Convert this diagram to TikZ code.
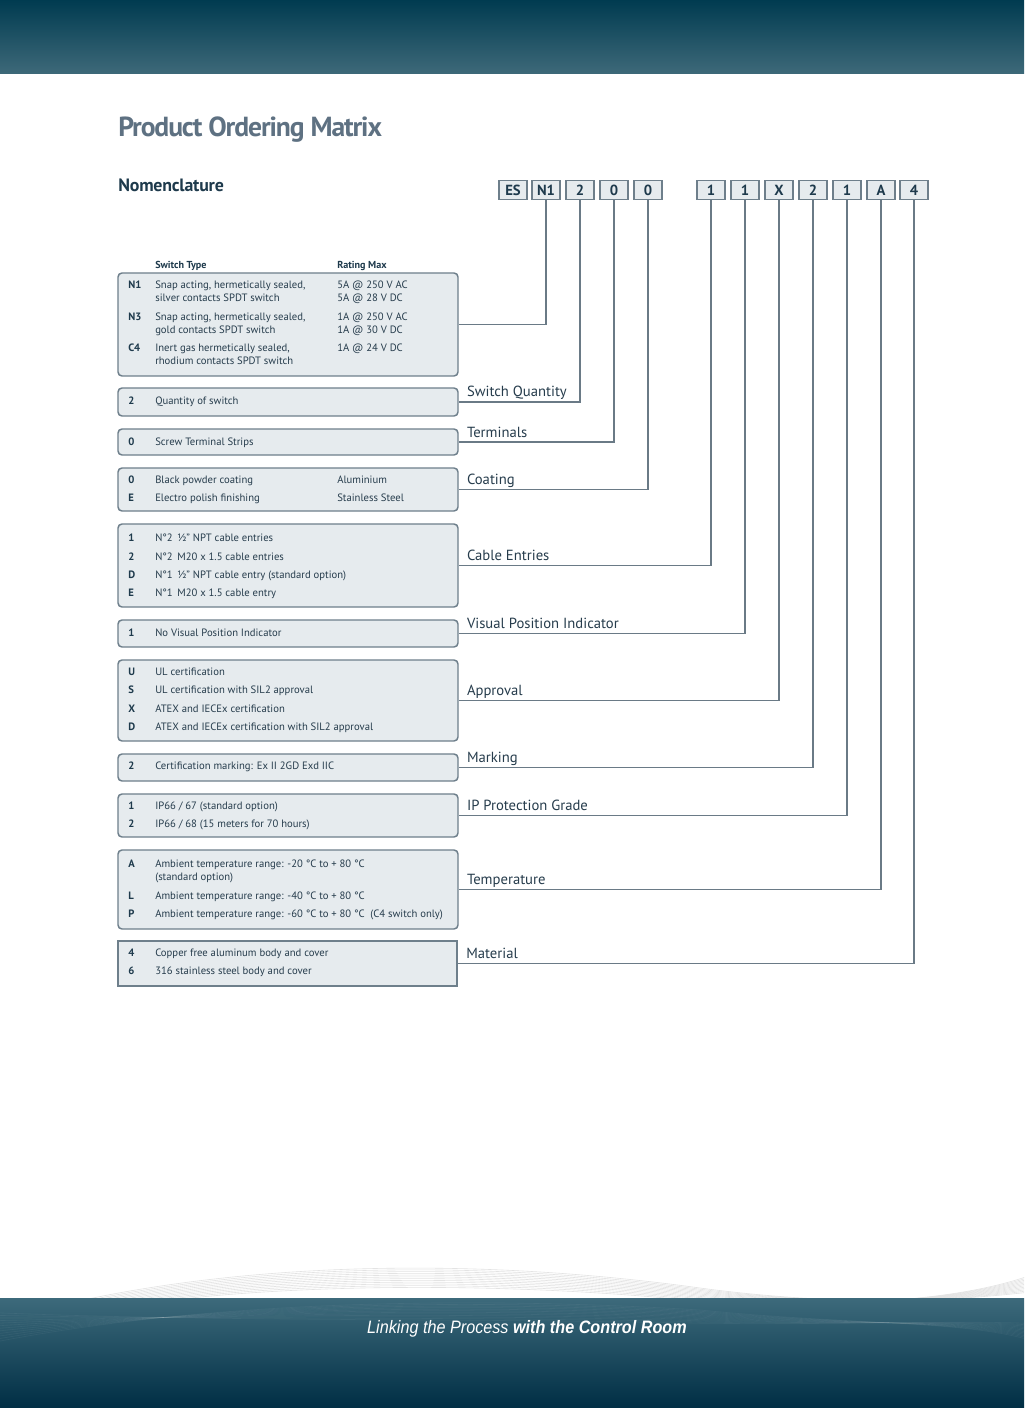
\documentclass[tikz,border=0pt]{standalone}
\usepackage{fontspec}
\setmainfont{PT Sans}
\newfontfamily\footfont{Liberation Sans}
\usetikzlibrary{calc,fit}
\definecolor{tblfill}{HTML}{E6EBEE}
\definecolor{tbldraw}{HTML}{6E7F8B}
\definecolor{ink}{HTML}{263C4C}
\definecolor{codeink}{HTML}{1E3A4C}
\definecolor{titlecol}{HTML}{5E7182}
\definecolor{linecol}{HTML}{6A7A86}
\definecolor{hdtop}{HTML}{003B50}
\definecolor{hdbot}{HTML}{3E6979}
\definecolor{fttop}{HTML}{3D6A7B}
\definecolor{ftbot}{HTML}{002E44}
\tikzset{
  codebox/.style={draw=tbldraw, fill=tblfill, line width=1.2pt, minimum width=21pt, minimum height=14.25pt, inner sep=0pt, font=\fontsize{11}{11}\selectfont\bfseries, text=codeink},
  tbl/.style={draw=tbldraw, fill=tblfill, rounded corners=3pt, line width=1.1pt, inner sep=0pt},
  tblsq/.style={draw=tbldraw, fill=tblfill, line width=1.5pt, inner sep=0pt},
  conn/.style={draw=linecol, line width=1.1pt},
  lbl/.style={anchor=base west, inner sep=0pt, font=\fontsize{11}{11}\selectfont, text=ink},
  keytxt/.style={anchor=mid west, inner sep=0pt, font=\fontsize{8}{8}\selectfont\bfseries, text=codeink},
  bodytxt/.style={anchor=mid west, inner sep=0pt, font=\fontsize{8}{8}\selectfont, text=ink},
  headtxt/.style={anchor=mid west, inner sep=0pt, font=\fontsize{7.6}{8}\selectfont\bfseries, text=codeink},
}
\newcommand\optrow[4]{%
  \node[keytxt] (#1-k) at (128,#2) {#3};
  \node[bodytxt] (#1-d) at (155,#2) {#4};}
\newcommand\opttxt[4]{\node[bodytxt] (#1) at (#2,#3) {#4};}
\begin{document}
\begin{tikzpicture}[x=0.75pt,y=-0.75pt]
\useasboundingbox (0,0) rectangle (1024,1408);
\fill[white] (0,0) rectangle (1024,1408);
% waves above footer
\begin{scope}
\clip (0,1200) rectangle (1024,1298);
\foreach \i in {0,...,11}{
  \draw[gray!22, line width=0.45pt] (40+\i*6,1310) .. controls (230,1262+\i*2.2) and (470,1256+\i*2) .. (700,1288+\i*1.2) .. controls (850,1308) and (960,1300) .. (1030,1292-\i*1.5);
}
\end{scope}
% header band
\shade[top color=hdtop, bottom color=hdbot] (0,0) rectangle (1024,74);
% footer band
\shade[top color=fttop, bottom color=ftbot] (0,1298) rectangle (1024,1408);
\begin{scope}
\clip (0,1298) rectangle (1024,1408);
\foreach \i in {0,...,11}{
  \draw[white, opacity=0.05, line width=0.45pt] (-20,1345-\i*3) .. controls (200,1300+\i*2) and (470,1296+\i*2) .. (700,1310+\i*1.2) .. controls (850,1325) and (960,1320) .. (1030,1340-\i*1.5);
}
\end{scope}
\node[anchor=base, inner sep=0pt, text=white] (foot) at (527,1333) {\scalebox{0.9}[1]{\footfont\fontsize{13.5}{14}\selectfont\itshape Linking the Process \bfseries with the Control Room}};

% titles
\node[anchor=base west, inner sep=0pt, text=titlecol] (title) at (118,137) {\fontsize{20.7}{21}\selectfont\bfseries\addfontfeature{LetterSpace=-4}Product Ordering Matrix};
\node[anchor=base west, inner sep=0pt, text=codeink] (nomen) at (118,192) {\fontsize{13.4}{14}\selectfont\bfseries\addfontfeature{LetterSpace=-1}Nomenclature};

% code boxes
\node[codebox] (cES) at (513,190) {ES};
\node[codebox] (cN1) at (546,190) {N1};
\node[codebox] (c2a) at (580,190) {2};
\node[codebox] (c0a) at (614,190) {0};
\node[codebox] (c0b) at (648,190) {0};
\node[codebox] (c1a) at (711,190) {1};
\node[codebox] (c1b) at (745,190) {1};
\node[codebox] (cX) at (779,190) {X};
\node[codebox] (c2b) at (813,190) {2};
\node[codebox] (c1c) at (847,190) {1};
\node[codebox] (cA) at (881,190) {A};
\node[codebox] (c4) at (914,190) {4};

% tables
\node[tbl, fit={(118,273) (458,376)}] (t1) {};
\node[tbl, fit={(118,388) (458,416)}] (t2) {};
\node[tbl, fit={(118,429) (458,455)}] (t3) {};
\node[tbl, fit={(118,468) (458,511)}] (t4) {};
\node[tbl, fit={(118,524) (458,607)}] (t5) {};
\node[tbl, fit={(118,620) (458,647)}] (t6) {};
\node[tbl, fit={(118,660) (458,741)}] (t7) {};
\node[tbl, fit={(118,754) (458,781)}] (t8) {};
\node[tbl, fit={(118,794) (458,837)}] (t9) {};
\node[tbl, fit={(118,850) (458,929)}] (t10) {};
\node[tblsq, fit={(118,941) (457,986)}] (t11) {};

% connectors
\draw[conn] (cN1.south) |- (t1.east);
\draw[conn] (c2a.south) |- (t2.east);
\draw[conn] (c0a.south) |- (t3.east);
\draw[conn] (c0b.south) |- (t4.east);
\draw[conn] (c1a.south) |- (t5.east);
\draw[conn] (c1b.south) |- (t6.east);
\draw[conn] (cX.south) |- (t7.east);
\draw[conn] (c2b.south) |- (t8.east);
\draw[conn] (c1c.south) |- (t9.east);
\draw[conn] (cA.south) |- (t10.east);
\draw[conn] (c4.south) |- (t11.east);

% labels
\node[lbl] (l2) at ($(t2.east)+(8,-5)$) {Switch Quantity};
\node[lbl] (l3) at ($(t3.east)+(8,-5)$) {Terminals};
\node[lbl] (l4) at ($(t4.east)+(8,-5)$) {Coating};
\node[lbl] (l5) at ($(t5.east)+(8,-5)$) {Cable Entries};
\node[lbl] (l6) at ($(t6.east)+(8,-5)$) {Visual Position Indicator};
\node[lbl] (l7) at ($(t7.east)+(8,-5)$) {Approval};
\node[lbl] (l8) at ($(t8.east)+(8,-5)$) {Marking};
\node[lbl] (l9) at ($(t9.east)+(8,-5)$) {IP Protection Grade};
\node[lbl] (l10) at ($(t10.east)+(8,-5)$) {Temperature};
\node[lbl] (l11) at ($(t11.east)+(8,-5)$) {Material};

% table 1
\node[headtxt] (h1) at (155,265) {Switch Type};
\node[headtxt] (h2) at (337,265) {Rating Max};
\optrow{n1}{285}{N1}{Snap acting, hermetically sealed,}
\opttxt{n1b}{155}{298}{silver contacts SPDT switch}
\opttxt{n1r}{337}{285}{5A @ 250 V AC}
\opttxt{n1s}{337}{298}{5A @ 28 V DC}
\optrow{n3}{317}{N3}{Snap acting, hermetically sealed,}
\opttxt{n3b}{155}{330}{gold contacts SPDT switch}
\opttxt{n3r}{337}{317}{1A @ 250 V AC}
\opttxt{n3s}{337}{330}{1A @ 30 V DC}
\optrow{c4r}{348}{C4}{Inert gas hermetically sealed,}
\opttxt{c4b}{155}{361}{rhodium contacts SPDT switch}
\opttxt{c4s}{337}{348}{1A @ 24 V DC}
% table 2
\optrow{q2}{401}{2}{Quantity of switch}
% table 3
\optrow{s0}{442}{0}{Screw Terminal Strips}
% table 4
\optrow{k0}{480}{0}{Black powder coating}
\opttxt{k0m}{337}{480}{Aluminium}
\optrow{kE}{498}{E}{Electro polish finishing}
\opttxt{kEm}{337}{498}{Stainless Steel}
% table 5
\optrow{e1}{538}{1}{N°2 \,½” NPT cable entries}
\optrow{e2}{557}{2}{N°2 \,M20 x 1.5 cable entries}
\optrow{eD}{575}{D}{N°1 \,½” NPT cable entry (standard option)}
\optrow{eE}{593}{E}{N°1 \,M20 x 1.5 cable entry}
% table 6
\optrow{v1}{633}{1}{No Visual Position Indicator}
% table 7
\optrow{aU}{672}{U}{UL certification}
\optrow{aS}{690}{S}{UL certification with SIL2 approval}
\optrow{aX}{709}{X}{ATEX and IECEx certification}
\optrow{aD}{727}{D}{ATEX and IECEx certification with SIL2 approval}
% table 8
\optrow{m2}{766}{2}{Certification marking: Ex II 2GD Exd IIC}
% table 9
\optrow{p1}{806}{1}{IP66 / 67 (standard option)}
\optrow{p2}{824}{2}{IP66 / 68 (15 meters for 70 hours)}
% table 10
\optrow{tA}{864}{A}{Ambient temperature range: -20 °C to + 80 °C}
\opttxt{tAb}{155}{877}{(standard option)}
\optrow{tL}{896}{L}{Ambient temperature range: -40 °C to + 80 °C}
\optrow{tP}{914}{P}{Ambient temperature range: -60 °C to + 80 °C \ (C4 switch only)}
% table 11
\optrow{b4}{953}{4}{Copper free aluminum body and cover}
\optrow{b6}{971}{6}{316 stainless steel body and cover}
\end{tikzpicture}
\end{document}
